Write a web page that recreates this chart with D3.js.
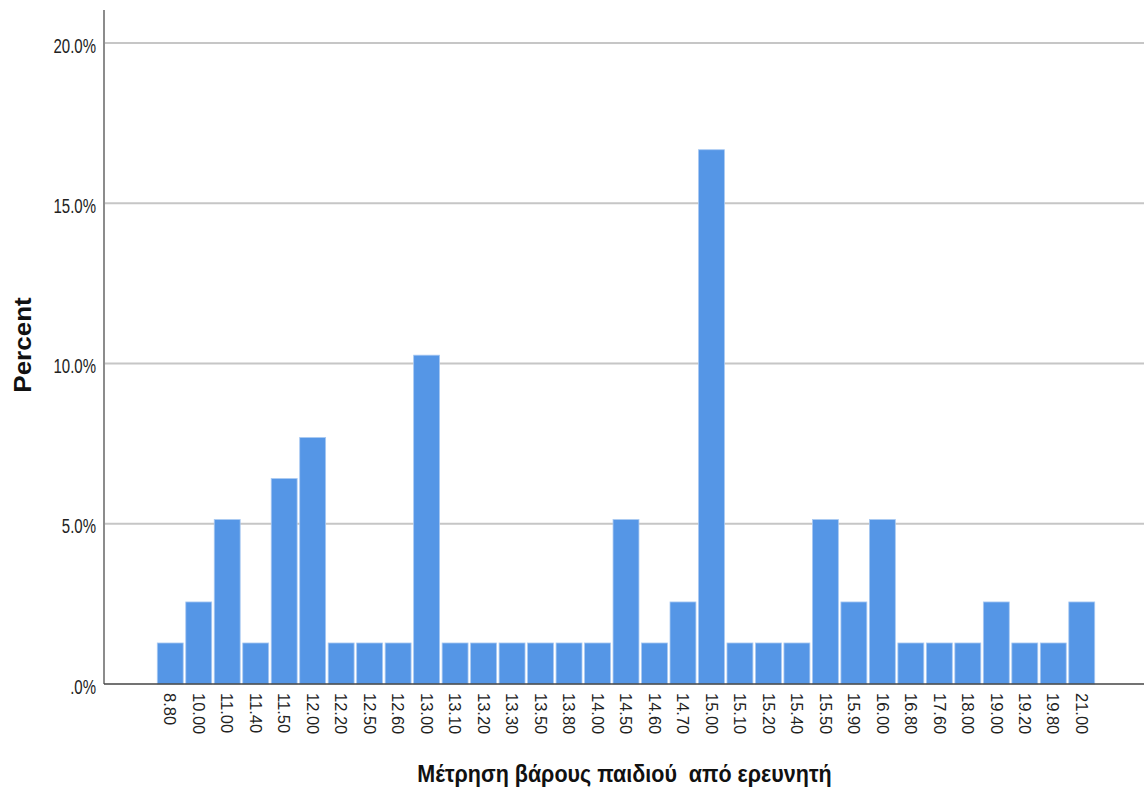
<!DOCTYPE html>
<html>
<head>
<meta charset="utf-8">
<script src="https://cdn.jsdelivr.net/npm/d3@7"></script>
<style>
  body { margin: 0; background: #fff; }
  svg { display: block; }
  text { font-family: "Liberation Sans", Arial, sans-serif; }
</style>
</head>
<body>
<svg id="chart" width="1144" height="794"></svg>
<script>
// Weight categories (kg) measured by the researcher
const categories = ["8.80","10.00","11.00","11.40","11.50","12.00","12.20","12.50","12.60","13.00",
  "13.10","13.20","13.30","13.50","13.80","14.00","14.50","14.60","14.70","15.00",
  "15.10","15.20","15.40","15.50","15.90","16.00","16.80","17.60","18.00","19.00",
  "19.20","19.80","21.00"];

// Percent of children in each category
const percents = [1.28, 2.56, 5.13, 1.28, 6.41, 7.69, 1.28, 1.28, 1.28, 10.26,
  1.28, 1.28, 1.28, 1.28, 1.28, 1.28, 5.13, 1.28, 2.56, 16.67,
  1.28, 1.28, 1.28, 5.13, 2.56, 5.13, 1.28, 1.28, 1.28, 2.56,
  1.28, 1.28, 2.56];

const yTicks = [0, 5, 10, 15, 20];
const yTickLabels = [".0%", "5.0%", "10.0%", "15.0%", "20.0%"];

const xTitle = "Μέτρηση βάρους παιδιού  από ερευνητή";
const yTitle = "Percent";

const svg = d3.select("#chart");
const plot = { left: 104, right: 1144, top: 10, bottom: 684 };

const x = d3.scaleBand()
  .domain(categories)
  .range([156, 1096])
  .paddingInner(0.09)
  .paddingOuter(0.045);

const y = d3.scaleLinear().domain([0, 20]).range([plot.bottom, 43]);

// horizontal gridlines
svg.append("g")
  .selectAll("line")
  .data(yTicks.filter(d => d > 0))
  .join("line")
  .attr("x1", plot.left).attr("x2", plot.right)
  .attr("y1", d => y(d)).attr("y2", d => y(d))
  .attr("stroke", "#c6c6c6")
  .attr("stroke-width", 2);

// y tick labels (slightly tall, narrow glyphs)
svg.append("g")
  .selectAll("text")
  .data(yTicks)
  .join("text")
  .attr("transform", d => `translate(96,${y(d) + 9.5}) scale(1,1.3)`)
  .attr("text-anchor", "end")
  .attr("font-size", 15)
  .attr("fill", "#222")
  .text((d, i) => yTickLabels[i]);

// bars
svg.append("g")
  .selectAll("rect")
  .data(percents)
  .join("rect")
  .attr("x", (d, i) => x(categories[i]))
  .attr("width", x.bandwidth())
  .attr("y", d => y(d))
  .attr("height", d => y(0) - y(d))
  .attr("fill", "#5596e6")
  .attr("stroke", "#a9c9f2")
  .attr("stroke-width", 0.8);

// y axis line
svg.append("line")
  .attr("x1", plot.left).attr("x2", plot.left)
  .attr("y1", plot.top).attr("y2", plot.bottom)
  .attr("stroke", "#8c8c8c")
  .attr("stroke-width", 2);

// x axis line
svg.append("line")
  .attr("x1", plot.left).attr("x2", plot.right)
  .attr("y1", plot.bottom).attr("y2", plot.bottom)
  .attr("stroke", "#444")
  .attr("stroke-width", 1.5);

// x tick labels, rotated
svg.append("g")
  .selectAll("text")
  .data(categories)
  .join("text")
  .attr("transform", d => `translate(${x(d) + x.bandwidth() / 2},${plot.bottom + 9}) rotate(90)`)
  .attr("dy", "0.35em")
  .attr("text-anchor", "start")
  .attr("font-size", 16.5)
  .attr("fill", "#222")
  .text(d => d);

// axis titles
svg.append("text")
  .attr("transform", "translate(624.5,782) scale(1,1.1)")
  .attr("text-anchor", "middle")
  .attr("font-size", 21.5)
  .attr("font-weight", "bold")
  .attr("fill", "#111")
  .style("white-space", "pre")
  .text(xTitle);

svg.append("text")
  .attr("transform", "translate(31,345) rotate(-90) scale(1.13,1)")
  .attr("text-anchor", "middle")
  .attr("font-size", 23)
  .attr("font-weight", "bold")
  .attr("fill", "#111")
  .text(yTitle);
</script>
</body>
</html>
